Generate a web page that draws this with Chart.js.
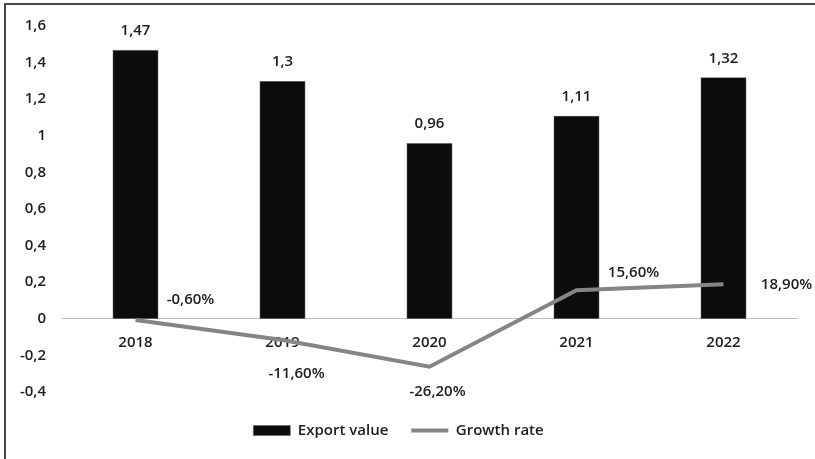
<!DOCTYPE html>
<html>
<head>
<meta charset="utf-8">
<script src="https://cdn.jsdelivr.net/npm/chart.js@4.4.1/dist/chart.umd.min.js"></script>
<style>
  html, body { margin: 0; padding: 0; background: #fff; }
  #wrap { position: relative; width: 815px; height: 459px; }
  #frame {
    position: absolute; left: 4px; top: 3px; right: -10px; bottom: -10px;
    border-top: 2px solid #4a4a4a; border-left: 2px solid #4a4a4a;
    pointer-events: none;
  }
</style>
</head>
<body>
<div id="wrap">
  <canvas id="myChart" width="815" height="459"></canvas>
  <div id="frame"></div>
</div>
<script>
"use strict";
const years = ["2018", "2019", "2020", "2021", "2022"];
const exportValue = [1.47, 1.3, 0.96, 1.11, 1.32];
const growthRate = [-0.6, -11.6, -26.2, 15.6, 18.9]; // percent
const yTicks = [-0.4, -0.2, 0, 0.2, 0.4, 0.6, 0.8, 1, 1.2, 1.4, 1.6];

const FONT = "'Open Sans', sans-serif";
const TEXT = "#202020";
const comma = (v) => String(v).replace(".", ",");

// where each growth label sits relative to its point
const rateLabelShift = [[55, -20], [14, 34], [8, 25], [57, -18], [63, 1]];

const valueLabels = {
  id: "valueLabels",
  afterDatasetsDraw(chart) {
    const ctx = chart.ctx;
    ctx.save();
    ctx.font = "600 15px " + FONT;
    ctx.fillStyle = TEXT;
    ctx.textAlign = "center";
    ctx.textBaseline = "middle";
    chart.getDatasetMeta(0).data.forEach((bar, i) => {
      ctx.fillText(comma(exportValue[i]), bar.x, bar.y - 19);
    });
    chart.getDatasetMeta(1).data.forEach((pt, i) => {
      const [dx, dy] = rateLabelShift[i];
      ctx.fillText(growthRate[i].toFixed(2).replace(".", ",") + "%", pt.x + dx, pt.y + dy);
    });
    ctx.restore();
  },
};

const ctx = document.getElementById("myChart");

new Chart(ctx, {
  type: "bar",
  data: {
    labels: years,
    datasets: [
      {
        label: "Export value",
        data: exportValue,
        backgroundColor: "#0c0c0c",
        borderColor: "#6a6a6a",
        borderWidth: 0.6,
        barPercentage: 0.313,
        categoryPercentage: 1,
        pointStyle: "rect",
        order: 2,
      },
      {
        type: "line",
        label: "Growth rate",
        data: growthRate.map((v) => v / 100),
        borderColor: "#858585",
        backgroundColor: "#858585",
        borderWidth: 4,
        pointRadius: 0,
        pointStyle: "line",
        tension: 0,
        order: 1,
      },
    ],
  },
  options: {
    responsive: false,
    animation: false,
    layout: { padding: { left: 0, right: 18, top: 26, bottom: 11 } },
    plugins: {
      legend: {
        position: "bottom",
        title: { display: true, text: "", font: { size: 8, lineHeight: 1 }, padding: 0 },
        labels: {
          usePointStyle: true,
          pointStyleWidth: 37,
          boxHeight: 10,
          padding: 23,
          color: TEXT,
          font: { family: FONT, size: 15, weight: "600" },
          sort: (a, b) => a.datasetIndex - b.datasetIndex,
        },
      },
      tooltip: { enabled: false },
    },
    scales: {
      x: {
        position: { y: 0 },
        grid: { display: false, drawTicks: false },
        border: { display: true, color: "#bdbdbd", width: 1 },
        ticks: { color: TEXT, padding: 15, font: { family: FONT, size: 15, weight: "600" } },
      },
      y: {
        min: -0.4,
        max: 1.6,
        afterFit: (scale) => { scale.width = 62; },
        afterBuildTicks: (scale) => { scale.ticks = yTicks.map((v) => ({ value: v })); },
        grid: { display: false, drawTicks: false },
        border: { display: false },
        ticks: {
          color: TEXT,
          padding: 16,
          font: { family: FONT, size: 15, weight: "600" },
          callback: (v) => comma(Number(v.toFixed(1))),
        },
      },
    },
  },
  plugins: [valueLabels],
});
</script>
</body>
</html>
